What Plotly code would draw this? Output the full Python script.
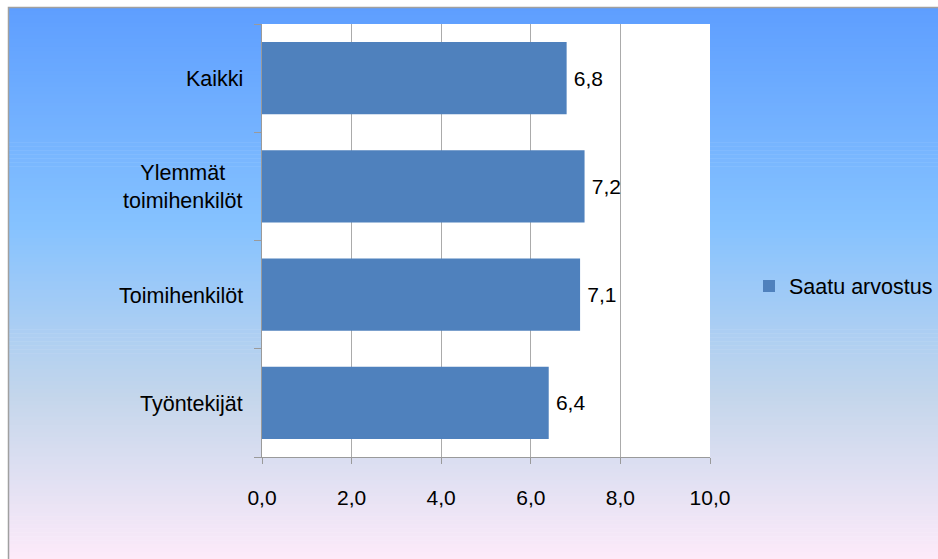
import plotly.graph_objects as go

# Data
categories = ["Kaikki", "Ylemmät toimihenkilöt", "Toimihenkilöt", "Työntekijät"]
category_labels = ["Kaikki", "Ylemmät<br>toimihenkilöt", "Toimihenkilöt", "Työntekijät"]
values = [6.8, 7.2, 7.1, 6.4]
series_name = "Saatu arvostus"
x_ticks = [0, 2, 4, 6, 8, 10]

W, H = 938, 559
L, R, T, B = 262, 228, 24, 102
PW, PH = W - L - R, H - T - B
FONT = "Liberation Sans"


def px_x(p):
    return (p - L) / PW


def px_y(p):
    return (H - B - p) / PH


def fmt(v):
    return f"{v:.1f}".replace(".", ",")


# Background gradient stops (top -> bottom)
stops = [(0.0, (0x5E, 0x9E, 0xFF)), (0.39, (0x85, 0xC2, 0xFF)),
         (0.70, (0xC4, 0xD6, 0xEB)), (1.0, (0xFF, 0xEB, 0xFA))]


def grad(t):
    for (t0, c0), (t1, c1) in zip(stops, stops[1:]):
        if t <= t1:
            f = (t - t0) / (t1 - t0)
            return "rgb(%d,%d,%d)" % tuple(round(a + (b - a) * f) for a, b in zip(c0, c1))
    return "rgb(%d,%d,%d)" % stops[-1][1]


shapes = []
top, bottom, left, right = 7, 564, 8, 945
n = 140
step = (bottom - top) / n
for i in range(n):
    y0 = top + i * step
    y1 = y0 + step + 0.6
    shapes.append(dict(type="rect", xref="paper", yref="paper", layer="below",
                       x0=px_x(left), x1=px_x(right), y0=px_y(y1), y1=px_y(y0),
                       line=dict(width=0), fillcolor=grad((i + 0.5) / n)))
# plot area
shapes.append(dict(type="rect", xref="paper", yref="paper", layer="below",
                   x0=0, x1=1, y0=0, y1=1, line=dict(width=0), fillcolor="white"))
# chart frame
shapes.append(dict(type="rect", xref="paper", yref="paper", layer="above",
                   x0=px_x(left + 0.5), x1=px_x(right), y0=px_y(bottom), y1=px_y(top + 0.5),
                   line=dict(width=1.5, color="#A0A0A0"), fillcolor="rgba(0,0,0,0)"))

fig = go.Figure()
fig.add_trace(go.Bar(
    y=categories, x=values, orientation="h", name=series_name,
    marker=dict(color="#4F81BD", line=dict(width=0)),
    text=["\u2009" + fmt(v) for v in values], textposition="outside",
    textfont=dict(family=FONT, size=21, color="black"),
    cliponaxis=False, showlegend=True,
))

annotations = [dict(x=0, xref="paper", y=c, yref="y", text=lab, showarrow=False,
                    xanchor="right", yanchor="middle", align="center", xshift=-17, yshift=-1,
                    font=dict(family=FONT, size=21.5, color="black"))
               for c, lab in zip(categories, category_labels)]

fig.update_layout(
    width=W, height=H, autosize=False,
    margin=dict(l=L, r=R, t=T, b=B, pad=0, autoexpand=False),
    paper_bgcolor="white", plot_bgcolor="white",
    separators=", ",
    bargap=0.333,
    shapes=shapes, annotations=annotations,
    font=dict(family=FONT, size=21, color="black"),
    legend=dict(x=px_x(749), xanchor="left", y=px_y(286), yanchor="middle",
                bgcolor="rgba(0,0,0,0)", font=dict(family=FONT, size=21.5, color="black")),
    xaxis=dict(range=[0, 10], tickvals=x_ticks, ticktext=[fmt(v) for v in x_ticks],
               showgrid=True, gridcolor="#ABABAB", gridwidth=1, zeroline=False,
               showline=True, linecolor="#9A9A9A", linewidth=1,
               ticks="outside", ticklen=6, tickcolor="#9A9A9A",
               ticklabelstandoff=16, tickfont=dict(family=FONT, size=21)),
    yaxis=dict(categoryorder="array", categoryarray=categories[::-1],
               showticklabels=False, showgrid=False, zeroline=False,
               showline=True, linecolor="#9A9A9A", linewidth=1,
               ticks="outside", ticklen=7, tickcolor="#9A9A9A", tickson="boundaries"),
)

fig.write_html("out.html")
